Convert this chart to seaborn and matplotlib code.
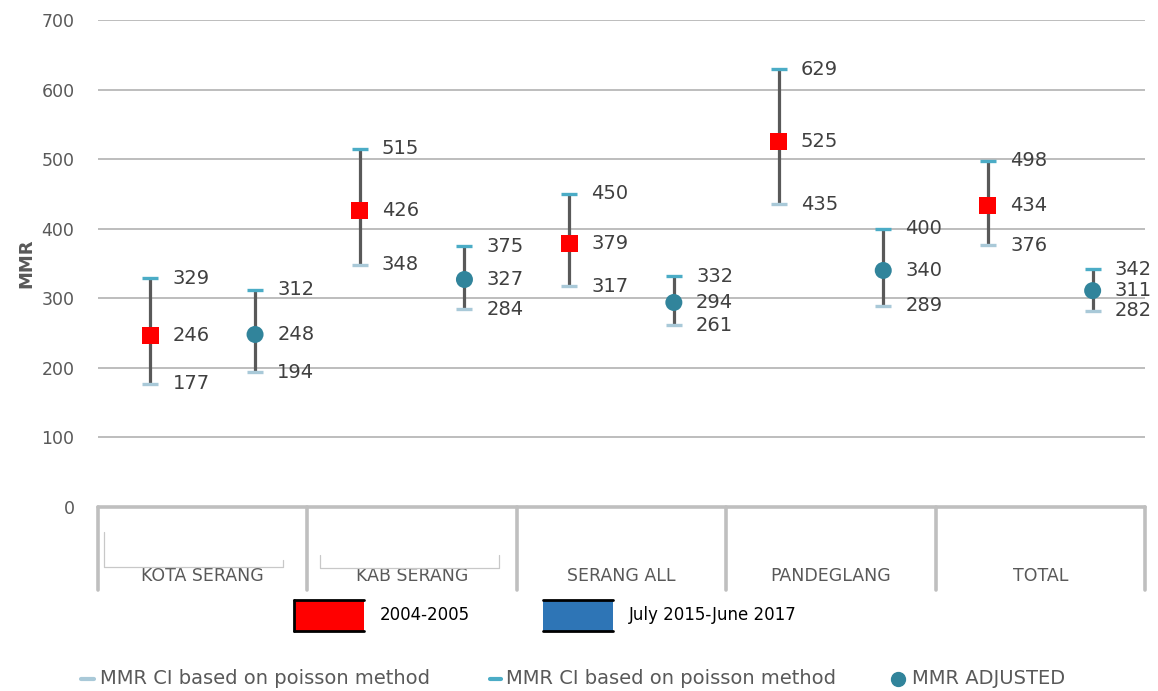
import numpy as np
import pandas as pd
import matplotlib
matplotlib.use("Agg")
import matplotlib.pyplot as plt
from matplotlib.lines import Line2D
from matplotlib.patches import Rectangle
import matplotlib.transforms as mtransforms
import seaborn as sns

# --- data -------------------------------------------------------------
categories = ["KOTA SERANG", "KAB SERANG", "SERANG ALL", "PANDEGLANG", "TOTAL"]
periods = ["2004-2005", "July 2015-June 2017"]

mmr_2004 = [246, 426, 379, 525, 434]
low_2004 = [177, 348, 317, 435, 376]
high_2004 = [329, 515, 450, 629, 498]

mmr_2015 = [248, 327, 294, 340, 311]
low_2015 = [194, 284, 261, 289, 282]
high_2015 = [312, 375, 332, 400, 342]

y_ticks = [0, 100, 200, 300, 400, 500, 600, 700]

# --- tidy frame: two slots per region -----------------------------------
rows = []
for i, cat in enumerate(categories):
    rows.append(dict(region=cat, period=periods[0], pos=2 * i,
                     mmr=mmr_2004[i], low=low_2004[i], high=high_2004[i]))
    rows.append(dict(region=cat, period=periods[1], pos=2 * i + 1,
                     mmr=mmr_2015[i], low=low_2015[i], high=high_2015[i]))
df = pd.DataFrame(rows)

# --- style --------------------------------------------------------------
sns.set_theme(style="white")
plt.rcParams["font.family"] = ["DejaVu Sans"]

W, H, DPI = 1158, 691, 100
fig = plt.figure(figsize=(W / DPI, H / DPI), dpi=DPI)

def fx(px):
    return px / W

def fy(py):
    return 1 - py / H

ax = fig.add_axes([fx(98), fy(507), fx(1145) - fx(98), fy(20) - fy(507)])

RED = "#ff0000"
TEAL = "#31849b"
CAP_TOP = "#4bacc6"
CAP_LOW = "#a9c9d8"
BAR = "#595959"
GRID = "#ababab"
TXT = "#404040"

ax.set_xlim(-0.5, 9.5)
ax.set_ylim(0, 700)
ax.set_yticks(y_ticks)
ax.set_yticklabels([str(t) for t in y_ticks], fontsize=12.5, color="#595959")
ax.set_xticks([])
ax.tick_params(axis="y", length=0, pad=17)
for s in ax.spines.values():
    s.set_visible(False)
for t in y_ticks[1:]:
    ax.axhline(t, color=GRID, lw=1.1, zorder=0)

# confidence interval whiskers and caps
ax.vlines(df["pos"], df["low"], df["high"], color=BAR, lw=2.3, zorder=2)
ax.plot(df["pos"], df["high"], linestyle="none", marker="_", markersize=11,
        markeredgewidth=2.4, color=CAP_TOP, zorder=3)
ax.plot(df["pos"], df["low"], linestyle="none", marker="_", markersize=11,
        markeredgewidth=2.4, color=CAP_LOW, zorder=3)

# point estimates
sns.scatterplot(data=df, x="pos", y="mmr", hue="period", style="period",
                palette={periods[0]: RED, periods[1]: TEAL},
                markers={periods[0]: "s", periods[1]: "o"},
                s=150, linewidth=0, legend=False, zorder=4, ax=ax)
ax.set_xlabel("")
ax.set_ylabel("MMR", fontsize=13, fontweight="bold", color="#595959", labelpad=4)

# value labels
for _, r in df.iterrows():
    for v in (r["high"], r["mmr"], r["low"]):
        ax.annotate(str(v), (r["pos"], v), xytext=(16, 0), textcoords="offset points",
                    va="center", ha="left", fontsize=14, color=TXT, zorder=5)

# --- category table below the plot --------------------------------------
trans = mtransforms.blended_transform_factory(ax.transData, ax.transAxes)
tbl_bottom = -(590 - 507) / 487
TBL = "#bfbfbf"
ax.add_line(Line2D([-0.5, 9.5], [0, 0], transform=trans, color=TBL, lw=2.6,
                   clip_on=False, zorder=1))
for b in [-0.5, 1.5, 3.5, 5.5, 7.5, 9.5]:
    ax.add_line(Line2D([b, b], [0, tbl_bottom], transform=trans, color=TBL, lw=2.6,
                       clip_on=False, zorder=1))
for i, cat in enumerate(categories):
    ax.text(2 * i + 0.5, -(576 - 507) / 487, cat, transform=trans, ha="center",
            va="center", fontsize=12.5, color="#595959")

# thin bracket outlines in the first two cells
BR = "#c8c8c8"
fig.add_artist(Line2D([fx(104), fx(104), fx(283), fx(283)],
                      [fy(532), fy(567), fy(567), fy(560)], color=BR, lw=0.9))
fig.add_artist(Line2D([fx(320), fx(320), fx(499), fx(499)],
                      [fy(555), fy(568), fy(568), fy(555)], color=BR, lw=0.9))

# --- period key -----------------------------------------------------------
def box(x0, x1, y0, y1, color, left_edge):
    fig.add_artist(Rectangle((fx(x0), fy(y1)), fx(x1) - fx(x0), fy(y0) - fy(y1),
                             facecolor=color, edgecolor="none"))
    fig.add_artist(Line2D([fx(x0), fx(x1)], [fy(y0), fy(y0)], color="black", lw=2))
    fig.add_artist(Line2D([fx(x0), fx(x1)], [fy(y1), fy(y1)], color="black", lw=2))
    if left_edge:
        fig.add_artist(Line2D([fx(x0), fx(x0)], [fy(y0), fy(y1)], color="black", lw=2))

box(294, 364, 600, 631, RED, True)
box(543, 613, 600, 631, "#2e75b6", False)
fig.text(fx(380), fy(615), periods[0], fontsize=12, color="black", va="center")
fig.text(fx(629), fy(615), periods[1], fontsize=12, color="black", va="center")

# --- series key -----------------------------------------------------------
fig.add_artist(Line2D([fx(81), fx(94)], [fy(679), fy(679)], color=CAP_LOW, lw=3))
fig.text(fx(100), fy(679), "MMR CI based on poisson method", fontsize=14,
         color="#595959", va="center")
fig.add_artist(Line2D([fx(490), fx(501)], [fy(679), fy(679)], color=CAP_TOP, lw=3))
fig.text(fx(506), fy(679), "MMR CI based on poisson method", fontsize=14,
         color="#595959", va="center")
fig.add_artist(Line2D([fx(898)], [fy(679)], marker="o", markersize=10,
                      color=TEAL, linestyle="none"))
fig.text(fx(912), fy(679), "MMR ADJUSTED", fontsize=14, color="#595959", va="center")

fig.savefig("out.png", dpi=DPI)
